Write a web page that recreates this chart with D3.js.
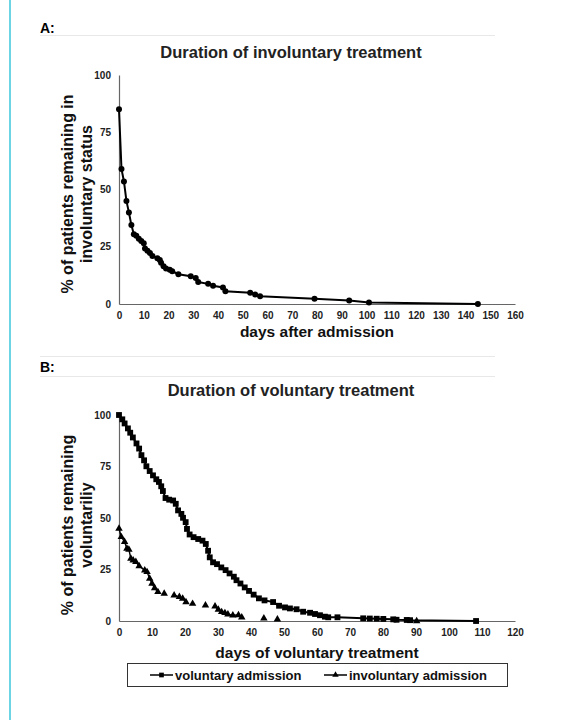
<!DOCTYPE html>
<html>
<head>
<meta charset="utf-8">
<script src="https://cdn.jsdelivr.net/npm/d3@7"></script>
<style>
  body { margin: 0; background: #fff; }
  svg { display: block; font-family: Arial, "Liberation Sans", sans-serif; }
</style>
</head>
<body>
<script>
const W = 566, H = 720;

// panel A: involuntary status over time
const invDays = [0, 1, 2, 3, 4, 5, 6, 7, 8, 9, 10, 10.5, 11.5, 12.5, 13.5, 15.5, 16.5, 17, 18, 19, 20.5, 21.5, 24,
  29, 31, 32, 36, 38, 42, 43, 53, 55, 57, 79, 93, 101, 145];
const invPct = [85, 59, 53.5, 45, 40, 34.5, 30.5, 29.8, 28.5, 27.5, 26.5, 24.2, 23.3, 22.3, 21, 20, 19.2, 18, 16.5, 15.5, 15, 14.3, 13,
  12.1, 11.4, 9.6, 8.8, 8.0, 7.2, 5.6, 4.9, 4.1, 3.4, 2.3, 1.5, 0.7, 0];

// panel B: voluntary treatment, voluntary admission
const volDays = [0, 1, 1.7, 2.7, 3.4, 4.2, 5.3, 6.1, 6.8, 7.6, 8.3, 9.3, 10.3, 11.3, 12.1, 12.8, 13.3, 14.1, 15.2, 16.4, 17.2,
  17.9, 18.9, 19.4, 20.2, 20.6, 21.4, 22.6, 24, 25.3, 26.3, 27, 27.5, 28.5, 29.7, 31, 32.3, 33.5, 34.8, 35.6, 36.8, 38.1,
  39.4, 40.8, 42.4, 44.1, 46.7, 48.5, 50.3, 51.8, 53.8, 55.8, 57.9, 59.4, 60.9, 62.4, 63.4, 66.2, 74, 76, 78.1, 80.1,
  83.1, 84.1, 87.2, 88.2, 108.2];
const volPct = [100, 97.9, 95.9, 93.5, 91.4, 89.1, 86.2, 83.7, 80.5, 78, 75.1, 72.8, 70.7, 68.8, 67.5, 65.4, 63.1, 59.7, 58.9, 58.5, 56.9,
  53.7, 52, 50.1, 48, 44.7, 42, 40.7, 39.8, 39, 37.4, 34.1, 30.9, 28.5, 27.6, 26, 24.7, 23.1, 21.5, 19.8, 18.2, 16.3,
  14.6, 12.8, 11, 10, 9.2, 7.4, 6.6, 6.1, 5.7, 4.5, 4.0, 3.4, 2.8, 2.1, 1.8, 1.8, 1.3, 1.2, 1.1, 1.0,
  0.8, 0.6, 0.5, 0.4, 0];

// panel B: voluntary treatment, involuntary admission
const invAdmDays = [0, 0.7, 1.7, 2.4, 3, 3.6, 4.3, 5.1, 6.1, 7.8, 8.5, 9.3, 10, 10.8, 11.8, 13.7, 16.7, 18.3, 19.3, 20.3, 22.3,
  26.2, 29.1, 30.1, 31.1, 32.1, 33, 34.5, 36.2, 37.2, 43.9, 48, 90.2];
const invAdmPct = [44.9, 40.8, 38.4, 35.2, 34.7, 30.3, 29.5, 28.7, 26.7, 24.6, 23.8, 20.6, 18.2, 16, 14.1, 13.3, 12.5, 11.7, 10.9, 9.2, 8.4,
  7.6, 7.1, 5.5, 4.4, 3.9, 3.2, 2.8, 2.9, 1.8, 1.3, 0.8, 0];

const yTicks = [0, 25, 50, 75, 100];

const svg = d3.select('body').append('svg')
  .attr('width', W)
  .attr('height', H);

// cyan margin line
svg.append('line')
  .attr('x1', 10).attr('x2', 10).attr('y1', 0).attr('y2', H)
  .attr('stroke', '#3cc6dc').attr('stroke-width', 1.5);

// panel headers
svg.append('text').attr('x', 40).attr('y', 33)
  .attr('font-size', 14).attr('font-weight', 'bold').text('A:');
svg.append('line').attr('x1', 40).attr('x2', 495).attr('y1', 35.5).attr('y2', 35.5)
  .attr('stroke', '#e8e8e8');

svg.append('line').attr('x1', 40).attr('x2', 495).attr('y1', 356.5).attr('y2', 356.5)
  .attr('stroke', '#e8e8e8');
svg.append('text').attr('x', 40).attr('y', 372)
  .attr('font-size', 14).attr('font-weight', 'bold').text('B:');
svg.append('line').attr('x1', 40).attr('x2', 495).attr('y1', 376.5).attr('y2', 376.5)
  .attr('stroke', '#e8e8e8');

function panel(cfg) {
  const x = d3.scaleLinear().domain([0, cfg.xMax]).range([119, 515]);
  const y = d3.scaleLinear().domain([0, 100]).range([cfg.y0, cfg.y1]);
  const g = svg.append('g');

  // axes
  const xAxis = g.append('g')
    .attr('transform', `translate(0,${cfg.y0})`)
    .call(d3.axisBottom(x).tickValues(d3.range(0, cfg.xMax + 1, 10)).tickSize(0).tickPadding(8));
  const yAxis = g.append('g')
    .attr('transform', 'translate(119,0)')
    .call(d3.axisLeft(y).tickValues(yTicks).tickSize(0).tickPadding(8));
  [xAxis, yAxis].forEach(a => {
    a.attr('font-family', null).attr('font-size', null);
    a.select('.domain').attr('stroke', '#666').attr('stroke-width', 1.2);
    a.selectAll('text')
      .style('font-size', '10px').style('font-weight', 'bold').attr('fill', '#222');
  });

  // title
  g.append('text')
    .attr('x', 291).attr('y', cfg.titleY)
    .attr('text-anchor', 'middle')
    .attr('font-size', 16.5).attr('font-weight', 'bold').attr('fill', '#222')
    .text(cfg.title);

  // x label
  g.append('text')
    .attr('x', 317).attr('y', cfg.xLabelY)
    .attr('text-anchor', 'middle')
    .attr('font-size', 15.5).attr('font-weight', 'bold').attr('fill', '#111')
    .text(cfg.xLabel);

  // y label (two lines)
  cfg.yLabel.forEach((t, i) => {
    g.append('text')
      .attr('transform', `translate(${67 + i * 19},${cfg.yLabelC}) rotate(-90)`)
      .attr('text-anchor', 'middle')
      .attr('dy', '0.35em')
      .attr('font-size', 16).attr('font-weight', 'bold').attr('fill', '#111')
      .text(t);
  });

  return {x, y, g};
}

// ---------- panel A
const A = panel({
  xMax: 160, y0: 304, y1: 75, titleY: 58, xLabelY: 337, yLabelC: 194,
  title: 'Duration of involuntary treatment',
  xLabel: 'days after admission',
  yLabel: ['% of patients remaining in', 'involuntary status']
});

const ptsA = invDays.map((d, i) => [d, invPct[i]]);
A.g.append('path')
  .datum(ptsA)
  .attr('fill', 'none').attr('stroke', '#000').attr('stroke-width', 2)
  .attr('d', d3.line().x(d => A.x(d[0])).y(d => A.y(d[1])));
A.g.selectAll('.dot')
  .data(ptsA).enter()
  .append('circle')
  .attr('cx', d => A.x(d[0])).attr('cy', d => A.y(d[1]))
  .attr('r', 3).attr('fill', '#000');

// ---------- panel B
const B = panel({
  xMax: 120, y0: 621, y1: 415, titleY: 396, xLabelY: 658, yLabelC: 525,
  title: 'Duration of voluntary treatment',
  xLabel: 'days of voluntary treatment',
  yLabel: ['% of patients remaining', 'voluntariliy']
});

const ptsVol = volDays.map((d, i) => [d, volPct[i]]);
const ptsInvAdm = invAdmDays.map((d, i) => [d, invAdmPct[i]]);

B.g.append('path')
  .datum(ptsVol)
  .attr('fill', 'none').attr('stroke', '#000').attr('stroke-width', 2)
  .attr('d', d3.line().x(d => B.x(d[0])).y(d => B.y(d[1])));
B.g.selectAll('.sq')
  .data(ptsVol).enter()
  .append('path')
  .attr('transform', d => `translate(${B.x(d[0])},${B.y(d[1])})`)
  .attr('d', d3.symbol(d3.symbolSquare, 34)())
  .attr('fill', '#000');

// involuntary admission: line only joins neighbouring days, gaps otherwise
const segs = d3.pairs(ptsInvAdm).filter(([a, b]) => b[0] - a[0] <= 1.75);
B.g.selectAll('.seg')
  .data(segs).enter()
  .append('line')
  .attr('x1', d => B.x(d[0][0])).attr('y1', d => B.y(d[0][1]))
  .attr('x2', d => B.x(d[1][0])).attr('y2', d => B.y(d[1][1]))
  .attr('stroke', '#000').attr('stroke-width', 1.4);
B.g.selectAll('.tri')
  .data(ptsInvAdm).enter()
  .append('path')
  .attr('transform', d => `translate(${B.x(d[0])},${B.y(d[1])})`)
  .attr('d', d3.symbol(d3.symbolTriangle, 24)())
  .attr('fill', '#000');

// legend
const leg = svg.append('g');
leg.append('rect')
  .attr('x', 127.5).attr('y', 663.5).attr('width', 380).attr('height', 23)
  .attr('fill', '#fff').attr('stroke', '#333').attr('stroke-width', 1);
const legItems = [
  {label: 'voluntary admission', x: 150, sym: d3.symbolSquare, size: 22},
  {label: 'involuntary admission', x: 324, sym: d3.symbolTriangle, size: 18}
];
legItems.forEach(it => {
  leg.append('line')
    .attr('x1', it.x).attr('x2', it.x + 23).attr('y1', 675).attr('y2', 675)
    .attr('stroke', '#000').attr('stroke-width', 1.5);
  leg.append('path')
    .attr('transform', `translate(${it.x + 11.5},675)`)
    .attr('d', d3.symbol(it.sym, it.size)())
    .attr('fill', '#000');
  leg.append('text')
    .attr('x', it.x + 25).attr('y', 679.5)
    .attr('font-size', 13).attr('font-weight', 'bold').attr('fill', '#111')
    .text(it.label);
});
</script>
</body>
</html>
